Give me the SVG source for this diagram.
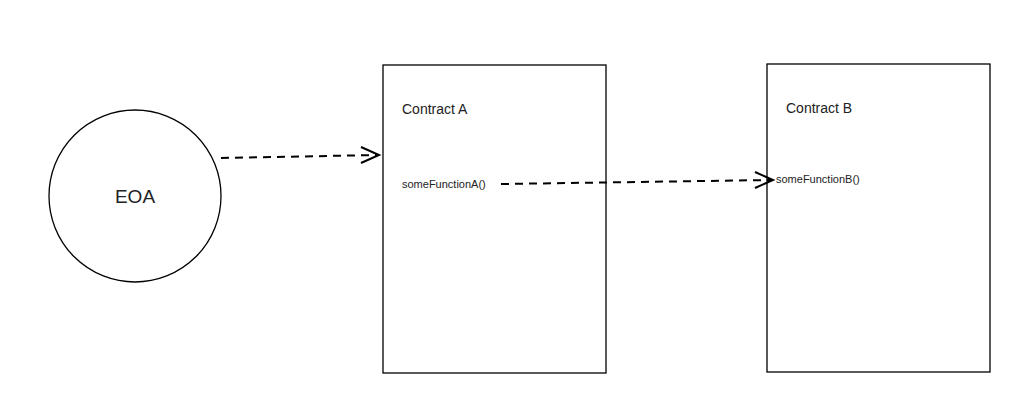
<svg xmlns="http://www.w3.org/2000/svg" width="1010" height="401" viewBox="0 0 1010 401">
<style>
.shape{fill:#fff;stroke:#000;stroke-width:1.3}
.conn{fill:none;stroke:#000;stroke-width:2;stroke-dasharray:8 6}
.head{fill:none;stroke:#000;stroke-width:2}
text{font-family:"Liberation Sans",Arial,sans-serif;fill:#222}
</style>
<rect width="1010" height="401" fill="#fff"/>
<g id="eoa"><circle class="shape" cx="135" cy="196" r="86"/><text x="135" y="203" font-size="19" text-anchor="middle">EOA</text></g>
<g id="contractA"><rect class="shape" x="383" y="65" width="223" height="308"/><text x="402" y="114" font-size="14">Contract A</text><text x="402" y="188" font-size="11">someFunctionA()</text></g>
<g id="contractB"><rect class="shape" x="767" y="64" width="223" height="308"/><text x="786" y="113" font-size="14">Contract B</text><text x="776" y="183" font-size="11">someFunctionB()</text></g>
<g id="connectors">
<path class="conn" d="M221 158 L379 155"/>
<path class="head" d="M361 147 L379 155 L361 163"/>
<path class="conn" d="M501 184 L771 180"/>
<path class="head" d="M755 172 L773 180 L755 188"/>
</g>
</svg>
